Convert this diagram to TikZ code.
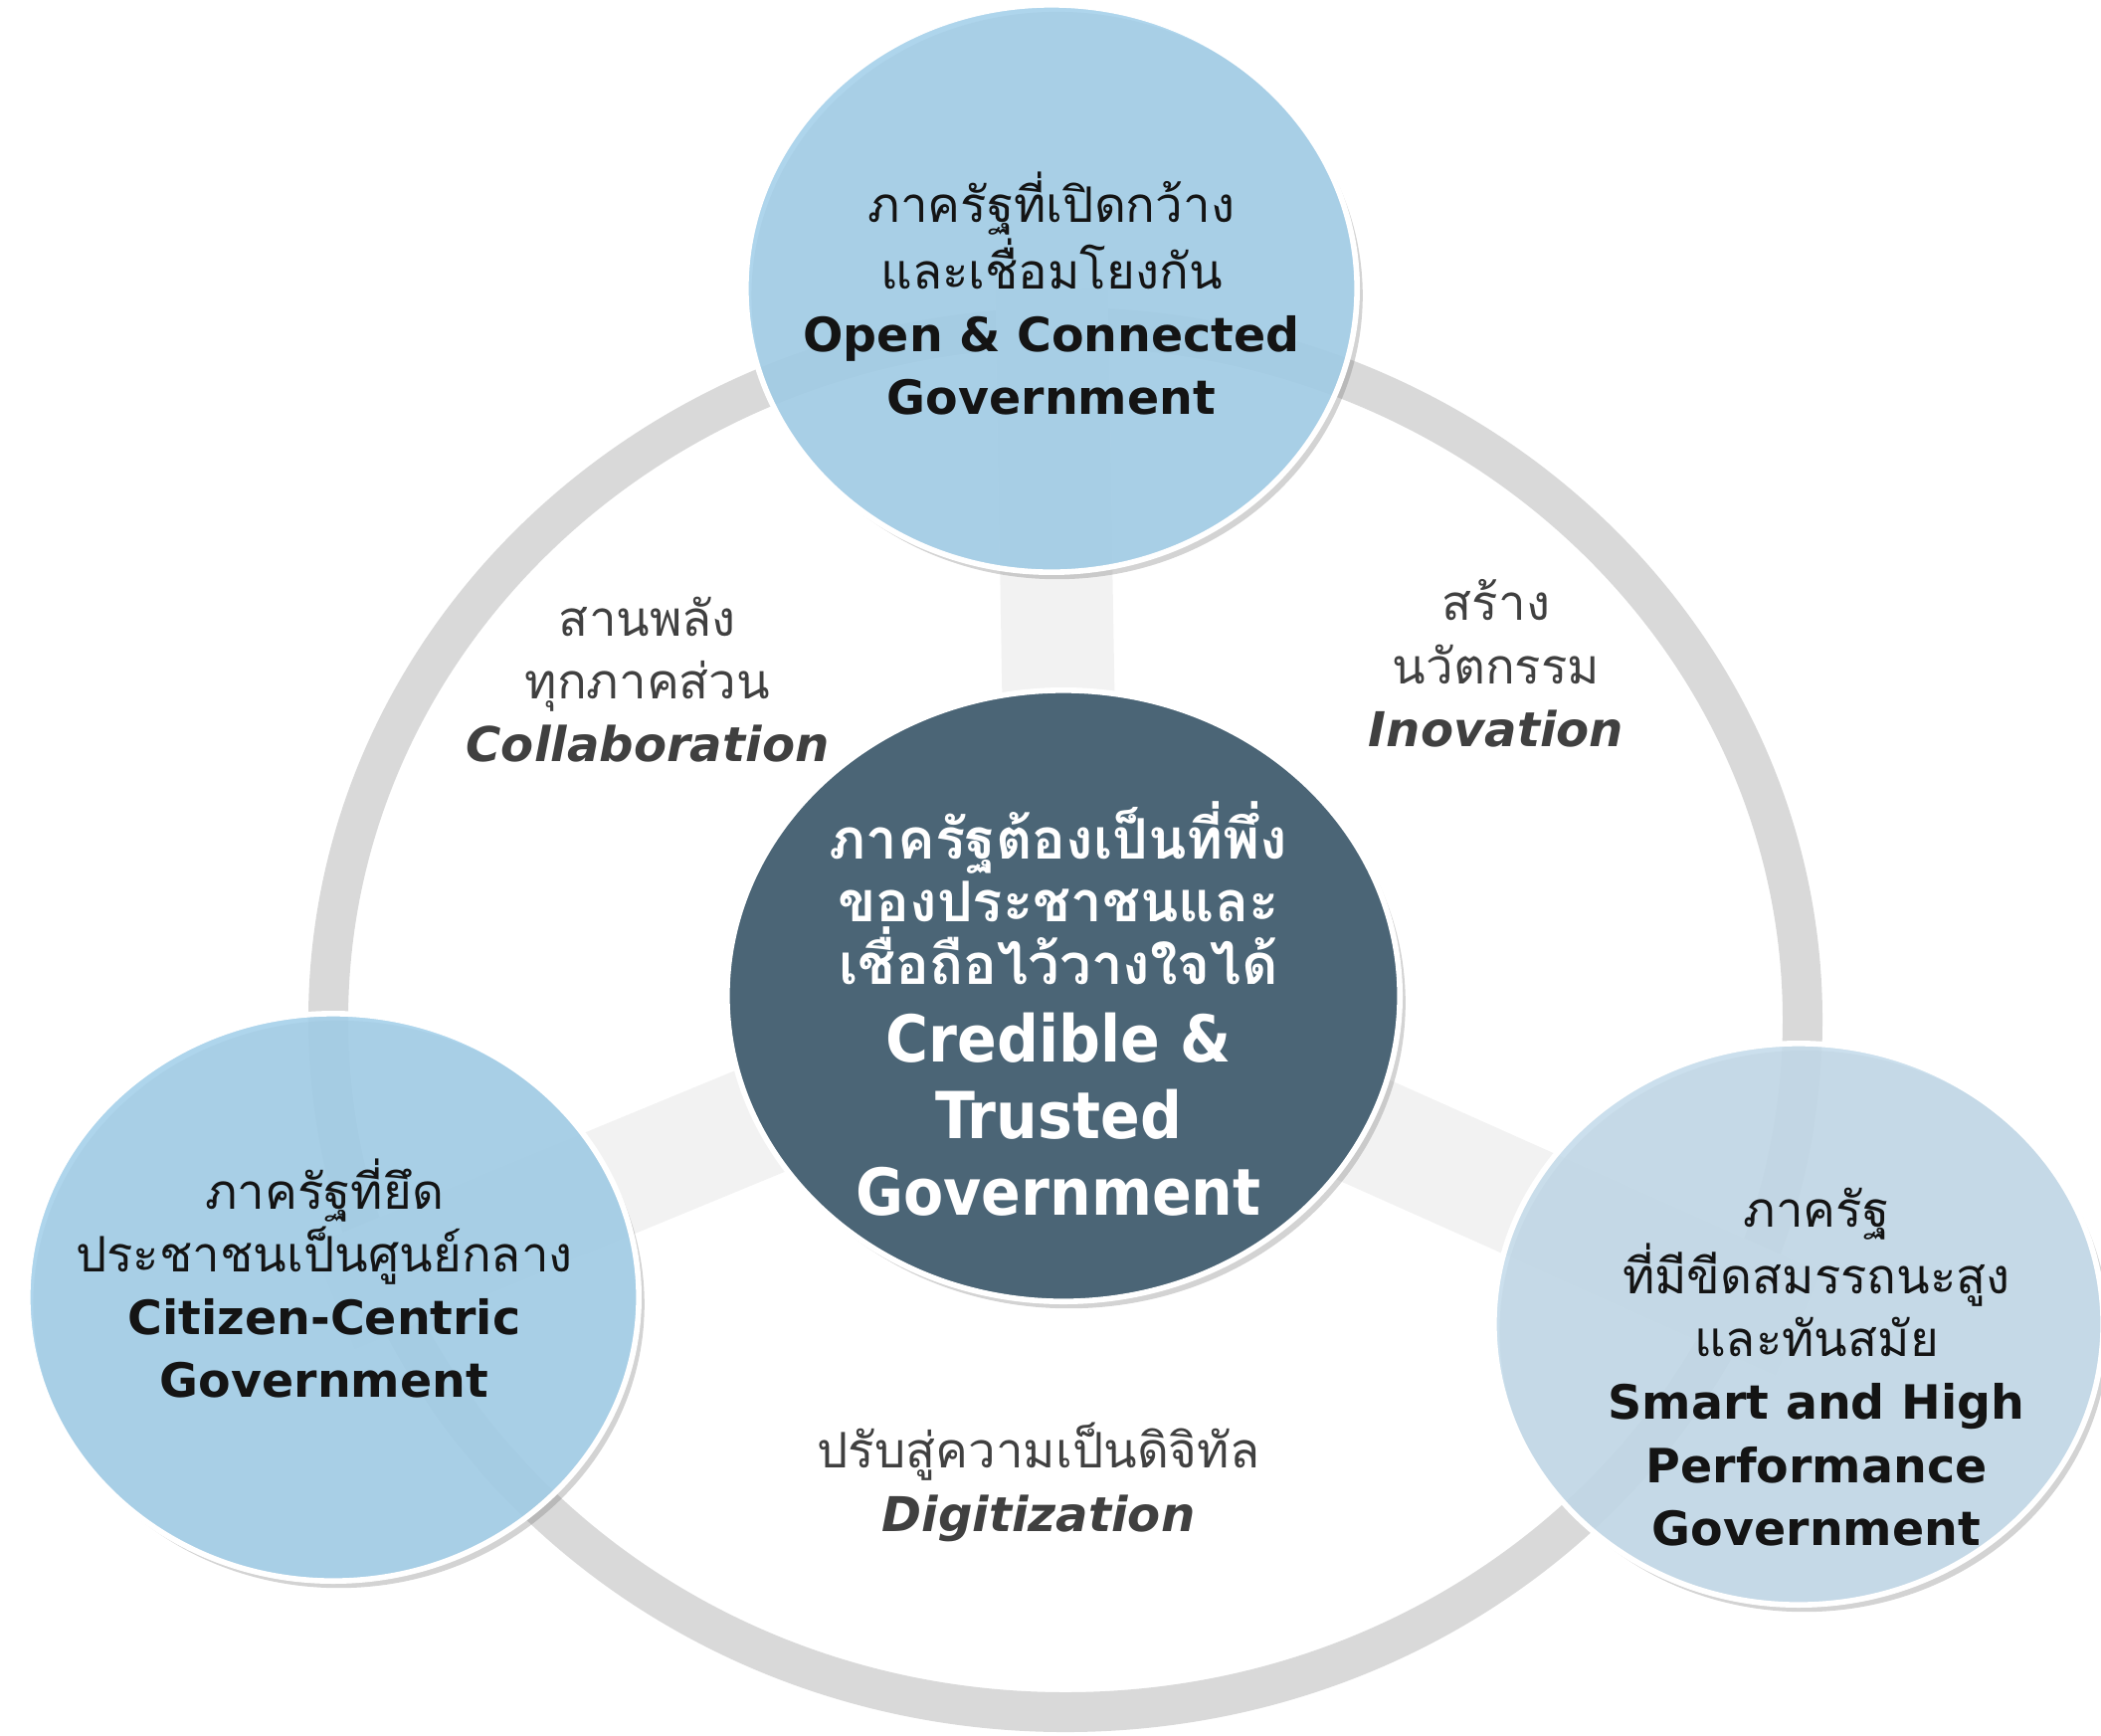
\documentclass[tikz,border=0pt]{standalone}
\usepackage{fontspec}
\setmainfont{DejaVu Sans}
\newfontfamily\thai[Script=Thai]{Loma}
\newfontfamily\cond{DejaVu Sans Condensed}
\usetikzlibrary{shapes.geometric,shadows,backgrounds,positioning}
\definecolor{SkyBlue}{RGB}{163,207,233}
\definecolor{PaleBlue}{RGB}{196,219,234}
\definecolor{SlateCore}{RGB}{75,101,118}
\definecolor{RingGray}{RGB}{217,217,217}
\definecolor{SpokeGray}{RGB}{242,242,242}
\definecolor{InkGray}{RGB}{64,64,64}
\definecolor{InkBlack}{RGB}{20,20,20}
\tikzset{
  pillar/.style={ellipse,draw=white,line width=1.6pt,fill=SkyBlue,fill opacity=0.88,
                 minimum width=6.14cm,minimum height=5.7cm,
                 drop shadow={shadow xshift=1.6pt,shadow yshift=-2pt,opacity=0.35}},
  core/.style={ellipse,draw=white,line width=1.6pt,fill=SlateCore,
               minimum width=6.76cm,minimum height=6.14cm,
               drop shadow={shadow xshift=1.6pt,shadow yshift=-2pt,opacity=0.35}},
  ring/.style={draw=RingGray,line width=0.4cm},
  spoke/.style={draw=SpokeGray,line width=1.13cm},
  ptext/.style={align=center,text=InkBlack,font=\fontsize{14}{18}\selectfont},
  ctext/.style={align=center,text=white,font=\fontsize{16}{18}\selectfont},
  lbl/.style={align=center,text=InkGray,font=\fontsize{14}{18}\selectfont},
}
\newcommand{\thx}[1]{{\thai #1}}
\newcommand{\enx}[1]{{\bfseries\fontsize{13.5}{18}\selectfont #1}}
\newcommand{\emx}[1]{{\bfseries\itshape\fontsize{13.7}{18}\selectfont #1}}
\newcommand{\bigx}[1]{{\cond\bfseries\fontsize{18.5}{22}\selectfont #1}}

\begin{document}
\begin{tikzpicture}[x=0.01cm,y=-0.01cm]
    \useasboundingbox (0,0) rectangle (2112,1744);

    % Circles
    \node[core] (core) at (1069,1001) {};
    \node[pillar] (open) at (1057,290) {};
    \node[pillar] (citizen) at (335,1304) {};
    \node[pillar, fill=PaleBlue, minimum width=6.12cm, minimum height=5.64cm] (smart) at (1808,1331) {};

    % Ring and spokes behind
    \begin{scope}[on background layer]
        \draw[ring] (1071,1025) ellipse [x radius=741, y radius=696];
        \draw[spoke] (core.center) -- (open.center);
        \draw[spoke] (core.center) -- (citizen.center);
        \draw[spoke] (core.center) -- (smart.center);
    \end{scope}

    % Circle texts
    \node[ptext] (openT) at (1057,295) {\thx{ภาครัฐที่เปิดกว้าง}\\ \thx{และเชื่อมโยงกัน}\\ \enx{Open \& Connected}\\ \enx{Government}};
    \node[ptext] (citizenT) at (326,1285) {\thx{ภาครัฐที่ยึด}\\ \thx{ประชาชนเป็นศูนย์กลาง}\\ \enx{Citizen-Centric}\\ \enx{Government}};
    \node[ptext] (smartT) at (1826,1374) {\thx{ภาครัฐ}\\ \thx{ที่มีขีดสมรรถนะสูง}\\ \thx{และทันสมัย}\\ \enx{Smart and High}\\ \enx{Performance}\\ \enx{Government}};
    \node[ctext] (coreT) at (1064,1014) {{\thai\bfseries ภาครัฐต้องเป็นที่พึ่ง}\\ {\thai\bfseries ของประชาชนและ}\\ {\thai\bfseries เชื่อถือไว้วางใจได้}\\[4pt]
        \bigx{Credible \&}\\[4pt] \bigx{Trusted}\\[4pt] \bigx{Government}};

    % Labels
    \node[lbl] (collab) at (651,683) {\thx{สานพลัง}\\ \thx{ทุกภาคส่วน}\\ \emx{Collaboration}};
    \node[lbl] (inno) at (1504,667) {\thx{สร้าง}\\ \thx{นวัตกรรม}\\ \emx{Inovation}};
    \node[lbl] (digit) at (1044,1490) {\thx{ปรับสู่ความเป็นดิจิทัล}\\ \emx{Digitization}};
\end{tikzpicture}
\end{document}
